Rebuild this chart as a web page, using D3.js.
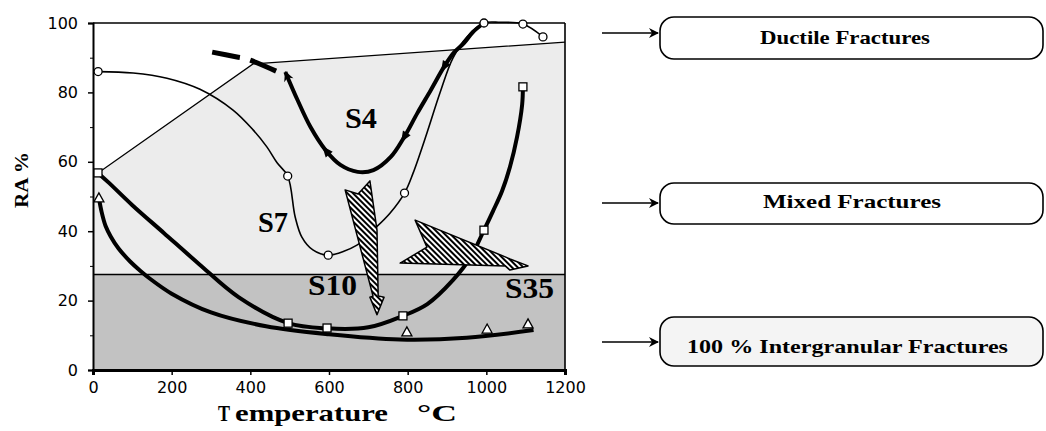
<!DOCTYPE html>
<html><head><meta charset="utf-8">
<script src="https://cdn.jsdelivr.net/npm/d3@7"></script>
<style>body{margin:0;background:#fff}svg{display:block}</style>
</head><body>
<svg id="c" width="1046" height="431"></svg>
<script>
// ---------- data ----------
const xTicks = [0, 200, 400, 600, 800, 1000, 1200];
const yTicks = [0, 20, 40, 60, 80, 100];
const yMinorTicks = [10, 30, 50, 70, 90];

// thin curve with circles (S7)
const circleMarkers = [[13,86],[495,55.9],[598,33.1],[792,51],[994,100],[1093,99.7],[1144,96]];
const circleCurve = [[13,86],[102,85.6],[188,84.1],[272,80.9],[356,74.9],[407,69.2],[442,64.3],[468,59.7],[495,55.9],[514,44.1],[531,38.3],[559,34.6],[598,33.1],[671,36],[712,40.3],[755,45.2],[792,51],[814,56.8],[849,68.3],[882,79.8],[915,89.9],[951,96],[994,100],[1035,100.2],[1093,99.7],[1144,96]];

// thick curve with arrows (S4)
const arrowCurve = [[489,85.9],[520,77.8],[553,70],[591,63.4],[629,59.1],[673,57.1],[713,57.6],[757,61.4],[790,66.9],[825,74.1],[859,80.7],[892,87.3],[917,91.4],[943,94.2],[966,97.4],[994,100]];
const arrowDashed = [[303,91.6],[366,90.2],[392,89.6],[476,85.6]];
const arrowMidX = [591, 790, 892];

// thick curve with squares
const squareMarkers = [[12.7,56.8],[496,13.5],[595,12.1],[788,15.6],[994,40.3],[1093,81.6]];
const squareCurve = [[12.7,56.8],[40,54],[100,47.5],[180,39.5],[270,30.5],[370,21],[496,13.5],[595,12],[700,12.3],[788,15.6],[850,19],[915,25.9],[959,32.3],[994,40.3],[1017,45.8],[1040,51.6],[1060,58.5],[1078,67.1],[1091,76.4],[1093,81.6]];

// thick curve with triangles
const triangleMarkers = [[15,49.6],[798,11],[1002,11.8],[1106,13.3]];
const triangleCurve = [[15,49.6],[22,45.5],[32,41.5],[45,38.5],[65,35],[95,31.2],[120,28.6],[145,26.3],[200,22],[300,16.6],[440,12.6],[600,10.3],[780,8.8],[950,9.3],[1120,11.5]];

// fracture regions
const mixedTop = [[12.7,56.8],[407,88.2],[1200,94.5]];
const intergranularTop = 27.5;

// hatched arrows (data units)
const hatchDown = [[641,51.9],[674,50.7],[704,54.5],[722,40.3],[725,21.3],[740,21.0],[722,15.9],[704,21.0],[712,21.3]];
const hatchRight = [[819,43.2],[1048,32.6],[1060,32.0],[1106,30.0],[1060,28.8],[1048,30.0],[781,30.8],[849,35.4]];

const curveLabels = [["S4",345,128,32],["S7",258,232,30],["S10",308,295,49],["S35",505,298,49]];
const legendItems = ["Ductile Fractures", "Mixed  Fractures", "100 % Intergranular Fractures"];

// ---------- layout ----------
const svg = d3.select("#c");
const L = 93, R = 565, T = 23, B = 370;
const x = d3.scaleLinear().domain([0, 1200]).range([L, R]);
const y = d3.scaleLinear().domain([0, 100]).range([B, T]);
const serif = "'Liberation Serif','Times New Roman',serif";
const sans = "'DejaVu Sans',sans-serif";

const defs = svg.append("defs");
const hp = defs.append("pattern").attr("id","hatch").attr("patternUnits","userSpaceOnUse")
  .attr("width",4).attr("height",4).attr("patternTransform","rotate(-45)");
hp.append("rect").attr("width",4).attr("height",4).attr("fill","#fff");
hp.append("line").attr("x1",1).attr("y1",0).attr("x2",1).attr("y2",4).attr("stroke","#000").attr("stroke-width",2);

defs.append("marker").attr("id","ah").attr("viewBox","0 0 10 10").attr("refX",9).attr("refY",5)
  .attr("markerUnits","userSpaceOnUse").attr("markerWidth",12).attr("markerHeight",10).attr("orient","auto-start-reverse")
  .append("path").attr("d","M0,0 L10,5 L0,10 L3,5 Z").attr("fill","#000");

// regions
svg.append("rect").attr("x",x(0)).attr("y",y(intergranularTop)).attr("width",x(1200)-x(0))
  .attr("height",y(0)-y(intergranularTop)).attr("fill","#c2c2c2");
const mixedPoly = [[0,intergranularTop],[0,mixedTop[0][1]],...mixedTop,[1200,intergranularTop]];
svg.append("path").attr("d", d3.line().x(d=>x(d[0])).y(d=>y(d[1]))(mixedPoly)+"Z").attr("fill","#ececec");
svg.append("path").attr("d", d3.line().x(d=>x(d[0])).y(d=>y(d[1]))(mixedTop))
  .attr("fill","none").attr("stroke","#000").attr("stroke-width",1.2);
svg.append("line").attr("x1",x(0)).attr("x2",x(1200)).attr("y1",y(intergranularTop)).attr("y2",y(intergranularTop))
  .attr("stroke","#000").attr("stroke-width",1.5);

// frame
svg.append("line").attr("x1",x(0)).attr("x2",x(1200)).attr("y1",y(100)).attr("y2",y(100)).attr("stroke","#000").attr("stroke-width",1.6);
svg.append("line").attr("x1",x(1200)).attr("x2",x(1200)).attr("y1",y(100)).attr("y2",y(0)).attr("stroke","#000").attr("stroke-width",1.6);

// axes
const gx = svg.append("g").attr("transform",`translate(0,${B})`)
  .call(d3.axisBottom(x).tickValues(xTicks).tickSize(5).tickPadding(7).tickFormat(d3.format("d")));
const gy = svg.append("g").attr("transform",`translate(${L},0)`)
  .call(d3.axisLeft(y).tickValues(yTicks).tickSize(5).tickPadding(10).tickFormat(d3.format("d")));
svg.append("g").attr("transform",`translate(${L},0)`)
  .call(d3.axisLeft(y).tickValues(yMinorTicks).tickSize(3).tickFormat(""))
  .call(g=>g.select(".domain").remove());
[gx,gy].forEach(g=>{
  g.selectAll("text").attr("font-family",sans).attr("font-size",16).attr("fill","#000");
  g.selectAll("line").attr("stroke","#000").attr("stroke-width",1.5);
});
gx.select(".domain").attr("stroke","#000").attr("stroke-width",3);
gy.select(".domain").attr("stroke","#000").attr("stroke-width",2);

// curves
const curve = d3.line().x(d=>x(d[0])).y(d=>y(d[1])).curve(d3.curveCatmullRom.alpha(0.5));
svg.append("path").attr("d",curve(circleCurve)).attr("fill","none").attr("stroke","#000").attr("stroke-width",1.6);
svg.append("path").attr("d",curve(triangleCurve)).attr("fill","none").attr("stroke","#000").attr("stroke-width",4);
svg.append("path").attr("d",curve(squareCurve)).attr("fill","none").attr("stroke","#000").attr("stroke-width",4);
const s4 = svg.append("path").attr("d",curve(arrowCurve)).attr("fill","none").attr("stroke","#000")
  .attr("stroke-width",4).attr("marker-start","url(#ah)");
svg.append("path").attr("d",curve(arrowDashed)).attr("fill","none").attr("stroke","#000")
  .attr("stroke-width",5).attr("stroke-dasharray","28,11");

// mid arrowheads on S4 (pointing back along the path)
const node = s4.node(), len = node.getTotalLength();
arrowMidX.forEach(tx=>{
  const px = x(tx); let best = 0, bd = 1e9;
  for (let l=0; l<=len; l+=1){ const p=node.getPointAtLength(l); const d=Math.abs(p.x-px); if(d<bd){bd=d;best=l;} }
  const p = node.getPointAtLength(best), a = node.getPointAtLength(Math.max(0,best-2)), b = node.getPointAtLength(Math.min(len,best+2));
  const ang = Math.atan2(a.y-b.y, a.x-b.x)*180/Math.PI;
  svg.append("path").attr("d","M5,0 L-6,-4.5 L-6,4.5 Z").attr("fill","#000")
    .attr("transform",`translate(${p.x},${p.y}) rotate(${ang})`);
});

// markers
svg.selectAll(".cm").data(circleMarkers).join("circle").attr("cx",d=>x(d[0])).attr("cy",d=>y(d[1])).attr("r",4)
  .attr("fill","#fff").attr("stroke","#000").attr("stroke-width",1.3);
svg.selectAll(".sm").data(squareMarkers).join("rect").attr("x",d=>x(d[0])-4).attr("y",d=>y(d[1])-4)
  .attr("width",8).attr("height",8).attr("fill","#fff").attr("stroke","#000").attr("stroke-width",1.3);
svg.selectAll(".tm").data(triangleMarkers).join("path")
  .attr("d",d=>`M${x(d[0])},${y(d[1])-5} L${x(d[0])+5},${y(d[1])+4} L${x(d[0])-5},${y(d[1])+4} Z`)
  .attr("fill","#fff").attr("stroke","#000").attr("stroke-width",1.3);

// hatched arrows
const poly = d3.line().x(d=>x(d[0])).y(d=>y(d[1]));
[hatchDown, hatchRight].forEach(s=>{
  svg.append("path").attr("d",poly(s)+"Z").attr("fill","url(#hatch)").attr("stroke","#000").attr("stroke-width",1.5).attr("stroke-linejoin","round");
});

// curve labels
curveLabels.forEach(([t,lx,ly,w])=>{
  svg.append("text").attr("x",lx).attr("y",ly).attr("font-family",serif).attr("font-weight","bold")
    .attr("font-size",30).attr("textLength",w).attr("lengthAdjust","spacingAndGlyphs").attr("fill","#000").text(t);
});

// axis titles
svg.append("text").attr("transform","translate(28,180) rotate(-90)").attr("text-anchor","middle")
  .attr("font-family",serif).attr("font-weight","bold").attr("font-size",18)
  .attr("textLength",56).attr("lengthAdjust","spacingAndGlyphs").text("RA %");
[["T",218,12],["emperature",235,153],["°C",417,40]].forEach(([t,tx,w])=>{
  svg.append("text").attr("x",tx).attr("y",421).attr("font-family",serif).attr("font-size",23)
    .attr("font-weight","bold").attr("textLength",w).attr("lengthAdjust","spacingAndGlyphs").text(t);
});

// legend boxes
const boxes = [
  {y0:17, h:42, arrowY:33, tx:760, tw:170, ty:44},
  {y0:183, h:41, arrowY:203, tx:763, tw:178, ty:208},
  {y0:317, h:49, arrowY:342, tx:687, tw:321, ty:353}
];
boxes.forEach((b,i)=>{
  if(i===2){
    svg.append("rect").attr("x",660).attr("y",b.y0).attr("width",383).attr("height",b.h).attr("rx",14).attr("fill","#f4f4f4");
  }
  svg.append("rect").attr("x",660).attr("y",b.y0).attr("width",383).attr("height",b.h).attr("rx",14)
    .attr("fill","none").attr("stroke","#000").attr("stroke-width",1.6);
  svg.append("line").attr("x1",602).attr("x2",658).attr("y1",b.arrowY).attr("y2",b.arrowY)
    .attr("stroke","#000").attr("stroke-width",1.4).attr("marker-end","url(#ah)");
  svg.append("text").attr("x",b.tx).attr("y",b.ty).attr("font-family",serif).attr("font-weight","bold")
    .attr("font-size",19).attr("textLength",b.tw).attr("lengthAdjust","spacingAndGlyphs").text(legendItems[i]);
});
</script>
</body></html>
